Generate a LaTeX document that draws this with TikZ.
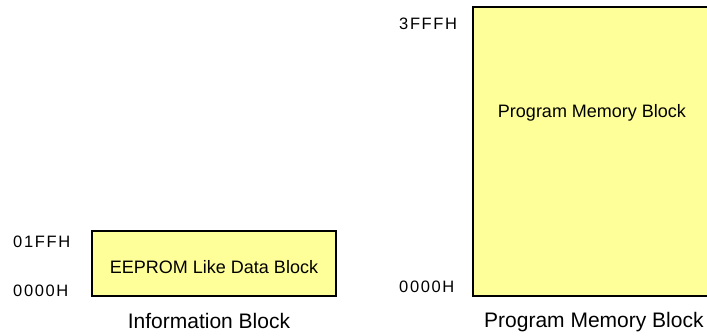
\documentclass[tikz,border=0pt]{standalone}
\usepackage{fontspec}
\setmainfont{Liberation Sans}
\usetikzlibrary{positioning}
\definecolor{memyellow}{RGB}{255,255,153}
\newcommand{\addrfont}{\fontsize{16.5}{20}\selectfont\addfontfeature{LetterSpace=10}}

\begin{document}
\begin{tikzpicture}[x=1pt, y=-1pt,
  memblock/.style={draw=black, line width=1.6pt, fill=memyellow, inner sep=0pt},
  blocktext/.style={font=\fontsize{18}{22}\selectfont, inner sep=0pt, anchor=base},
  blockname/.style={font=\fontsize{21}{25}\selectfont, inner sep=0pt},
  addr/.style={font=\addrfont, inner sep=0pt, anchor=base west}]
  \useasboundingbox (0,0) rectangle (707,335);
  \clip (0,0) rectangle (707,335);

  % information block
  \node [memblock, minimum width=244pt, minimum height=65pt] (eeprom) at (214,263.5) {};
  \node [blocktext] (eepromtext) at (214,273) {EEPROM Like Data Block};
  \node [addr] (infotop) at (13,247) {01FFH};
  \node [addr] (infobot) at (13,296) {0000H};
  \node [blockname, anchor=base] (infoname) at (209,328) {Information Block};

  % program memory block
  \node [memblock, minimum width=238pt, minimum height=289pt] (progmem) at (592,151.5) {};
  \node [blocktext] (progtext) at (592,117) {Program Memory Block};
  \node [addr] (progtop) at (399,29) {3FFFH};
  \node [addr] (progbot) at (399,292) {0000H};
  \node [blockname, anchor=base west] (progname) at (484,327) {Program Memory Block};
\end{tikzpicture}
\end{document}
